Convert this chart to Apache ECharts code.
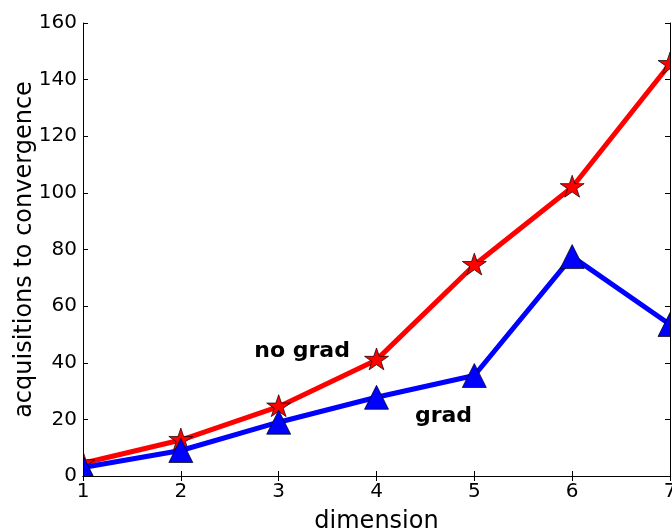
<!DOCTYPE html>
<html>
<head>
<meta charset="utf-8">
<script src="https://cdn.jsdelivr.net/npm/echarts@6/dist/echarts.min.js"></script>
<style>
  html, body { margin: 0; padding: 0; background: #fff; }
  #chart { width: 672px; height: 530px; }
</style>
</head>
<body>
<div id="chart"></div>
<script>
// ---- data ----
const dims = [1, 2, 3, 4, 5, 6, 7];
const noGradValues = [4.5, 12.7, 24.5, 41, 74.5, 102, 145.5];
const gradValues = [3, 9, 19, 27.8, 35.5, 77.5, 53.5];
const yTicks = [0, 20, 40, 60, 80, 100, 120, 140, 160];
const annotX = [3.24, 4.685];
const annotY = [44.2, 21.2];
const annotText = ['no grad', 'grad'];

const FONT = 'DejaVu Sans';
const starPath = 'path://M0,-100 L22.45,-30.9 L95.1,-30.9 L36.33,11.8 L58.8,80.9 L0,38.2 L-58.8,80.9 L-36.33,11.8 L-95.1,-30.9 L-22.45,-30.9 Z';
const triPath = 'path://M0,-1 L1,1 L-1,1 Z';

const chart = echarts.init(document.getElementById('chart'), null, { renderer: 'canvas' });

const gridLeft = 83, gridRight = 2, gridTop = 23, gridBottom = 54;
const W = 672, H = 530;

const axisCommon = {
  type: 'value',
  axisLine: { show: true, lineStyle: { color: '#000', width: 1 } },
  axisTick: { show: true, inside: true, length: 5, lineStyle: { color: '#000', width: 1 } },
  splitLine: { show: false },
  nameMoveOverlap: false,
  z: 10
};

const option = {
  animation: false,
  backgroundColor: '#fff',
  grid: { left: gridLeft, right: gridRight, top: gridTop, bottom: gridBottom, containLabel: false, outerBoundsMode: 'none' },
  xAxis: [
    Object.assign({}, axisCommon, {
      position: 'bottom',
      min: dims[0], max: dims[dims.length - 1], interval: 1,
      axisLabel: { show: true, color: '#000', fontFamily: FONT, fontSize: 20, margin: 6 },
      name: 'dimension', nameLocation: 'middle', nameGap: 34,
      nameTextStyle: { color: '#000', fontFamily: FONT, fontSize: 24 }
    }),
    Object.assign({}, axisCommon, {
      position: 'top',
      min: dims[0], max: dims[dims.length - 1], interval: 1,
      axisLabel: { show: false }
    })
  ],
  yAxis: [
    Object.assign({}, axisCommon, {
      position: 'left',
      min: yTicks[0], max: yTicks[yTicks.length - 1], interval: yTicks[1] - yTicks[0],
      axisLabel: { show: true, color: '#000', fontFamily: FONT, fontSize: 20, margin: 6 },
      name: 'acquisitions to convergence', nameLocation: 'middle', nameGap: 46, nameRotate: 90,
      nameTextStyle: { color: '#000', fontFamily: FONT, fontSize: 24 }
    }),
    Object.assign({}, axisCommon, {
      position: 'right',
      min: yTicks[0], max: yTicks[yTicks.length - 1], interval: yTicks[1] - yTicks[0],
      axisLabel: { show: false }
    })
  ],
  graphic: [
    // masks emulating clipping of markers at the axes box
    { type: 'rect', z: 5, silent: true, shape: { x: 0, y: 0, width: gridLeft, height: H }, style: { fill: '#fff' } },
    { type: 'rect', z: 5, silent: true, shape: { x: W - gridRight + 0.5, y: 0, width: gridRight + 1, height: H }, style: { fill: '#fff' } },
    { type: 'rect', z: 5, silent: true, shape: { x: 0, y: H - gridBottom, width: W, height: gridBottom }, style: { fill: '#fff' } },
    { type: 'rect', z: 5, silent: true, shape: { x: 0, y: 0, width: W, height: gridTop }, style: { fill: '#fff' } }
  ],
  series: [
    {
      name: 'no grad', type: 'line',
      data: dims.map((d, i) => [d, noGradValues[i]]),
      lineStyle: { color: '#ff0000', width: 5 },
      itemStyle: { color: '#ff0000', borderColor: '#000', borderWidth: 0.7 },
      symbol: starPath, symbolSize: [24, 23], symbolKeepAspect: true, symbolOffset: [0, -1],
      showAllSymbol: true, clip: false, z: 2
    },
    {
      name: 'grad', type: 'line',
      data: dims.map((d, i) => [d, gradValues[i]]),
      lineStyle: { color: '#0000ff', width: 5 },
      itemStyle: { color: '#0000ff', borderColor: '#000', borderWidth: 0.7 },
      symbol: triPath, symbolSize: [24, 24],
      showAllSymbol: true, clip: false, z: 3
    },
    {
      name: 'annotations', type: 'scatter',
      data: annotX.map((x, i) => ({ value: [x, annotY[i]], name: annotText[i] })),
      symbolSize: 0,
      itemStyle: { opacity: 1 },
      label: {
        show: true, position: 'inside', formatter: p => p.name, opacity: 1,
        color: '#000', fontFamily: FONT, fontSize: 22, fontWeight: 'bold'
      },
      z: 4
    }
  ]
};

chart.setOption(option);
</script>
</body>
</html>
